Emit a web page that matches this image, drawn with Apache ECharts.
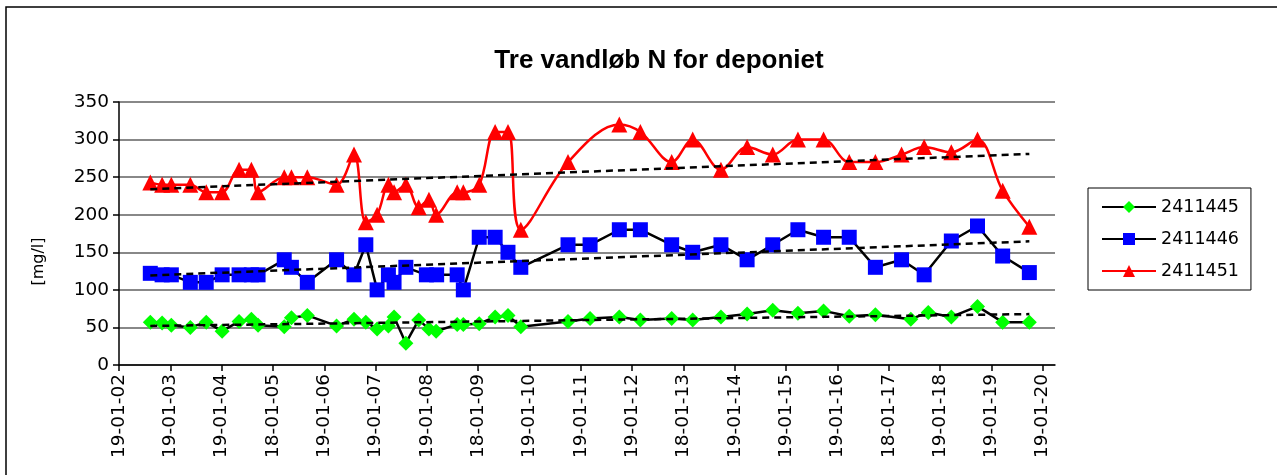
<!DOCTYPE html>
<html>
<head>
<meta charset="utf-8">
<script src="https://cdn.jsdelivr.net/npm/echarts@6/dist/echarts.min.js"></script>
<style>
  html, body { margin: 0; padding: 0; background: #fff; }
  #main { width: 1277px; height: 475px; }
</style>
</head>
<body>
<div id="main"></div>
<script>
// x-akse: år (decimal), labels som i Excel-diagrammet
var years = [2002, 2003, 2004, 2005, 2006, 2007, 2008, 2009, 2010, 2011,
             2012, 2013, 2014, 2015, 2016, 2017, 2018, 2019, 2020];
var tickLabels = ['19-01-02', '19-01-03', '19-01-04', '18-01-05', '19-01-06', '19-01-07',
                  '19-01-08', '18-01-09', '19-01-10', '19-01-11', '19-01-12', '18-01-13',
                  '19-01-14', '19-01-15', '19-01-16', '18-01-17', '19-01-18', '19-01-19', '19-01-20'];

// 2411445
var dates445 = [2002.61, 2002.84, 2003.02, 2003.39, 2003.70, 2004.01, 2004.34, 2004.58, 2004.71,
                2005.22, 2005.36, 2005.67, 2006.24, 2006.58, 2006.81, 2007.03, 2007.25, 2007.36,
                2007.59, 2007.84, 2008.04, 2008.18, 2008.59, 2008.71, 2009.02, 2009.33, 2009.58,
                2009.83, 2010.75, 2011.18, 2011.75, 2012.16, 2012.77, 2013.18, 2013.73, 2014.24,
                2014.74, 2015.23, 2015.73, 2016.23, 2016.74, 2017.43, 2017.77, 2018.22, 2018.73,
                2019.22, 2019.74];
var vals445 = [57, 56, 53, 50, 57, 45, 58, 61, 53,
               51, 63, 66, 52, 61, 57, 48, 52, 64,
               29, 60, 48, 45, 54, 54, 55, 64, 66,
               51, 58, 62, 64, 60, 62, 60, 64, 68,
               73, 69, 72, 65, 67, 61, 70, 64, 78,
               57, 57];

// 2411446
var dates446 = [2002.61, 2002.84, 2003.02, 2003.39, 2003.70, 2004.01, 2004.34, 2004.58, 2004.71,
                2005.22, 2005.36, 2005.67, 2006.24, 2006.58, 2006.81, 2007.03, 2007.25, 2007.36,
                2007.59, 2007.99, 2008.19, 2008.59, 2008.71, 2009.02, 2009.33, 2009.58, 2009.83,
                2010.75, 2011.18, 2011.75, 2012.16, 2012.77, 2013.18, 2013.73, 2014.24, 2014.74,
                2015.23, 2015.73, 2016.23, 2016.74, 2017.25, 2017.69, 2018.22, 2018.73, 2019.22,
                2019.74];
var vals446 = [122, 120, 120, 110, 110, 120, 120, 120, 120,
               140, 130, 110, 140, 120, 160, 100, 120, 110,
               130, 120, 120, 120, 100, 170, 170, 150, 130,
               160, 160, 180, 180, 160, 150, 160, 140, 160,
               180, 170, 170, 130, 140, 120, 165, 185, 145,
               123];

// 2411451
var dates451 = [2002.61, 2002.84, 2003.02, 2003.39, 2003.70, 2004.01, 2004.34, 2004.58, 2004.71,
                2005.22, 2005.36, 2005.67, 2006.24, 2006.58, 2006.81, 2007.03, 2007.25, 2007.36,
                2007.59, 2007.84, 2008.04, 2008.18, 2008.59, 2008.71, 2009.02, 2009.33, 2009.58,
                2009.83, 2010.75, 2011.75, 2012.16, 2012.77, 2013.18, 2013.73, 2014.24, 2014.74,
                2015.23, 2015.73, 2016.23, 2016.74, 2017.25, 2017.69, 2018.22, 2018.73, 2019.22,
                2019.74];
var vals451 = [243, 240, 240, 240, 230, 230, 260, 260, 230,
               250, 250, 250, 240, 280, 190, 200, 240, 230,
               240, 210, 220, 200, 230, 230, 240, 310, 310,
               180, 270, 320, 310, 270, 300, 260, 290, 280,
               300, 300, 270, 270, 280, 290, 283, 300, 232,
               184];

function pairs(xs, ys) {
    var out = [];
    for (let i = 0; i < xs.length; i++) out.push([xs[i], ys[i]]);
    return out;
}

// lineær trendlinje (mindste kvadraters metode) som i Excel
function trend(xs, ys) {
    var n = xs.length, sx = 0, sy = 0, sxx = 0, sxy = 0;
    for (let i = 0; i < n; i++) {
        sx += xs[i]; sy += ys[i]; sxx += xs[i] * xs[i]; sxy += xs[i] * ys[i];
    }
    var b = (n * sxy - sx * sy) / (n * sxx - sx * sx);
    var a = (sy - b * sx) / n;
    var x0 = xs[0], x1 = xs[n - 1];
    return [[x0, a + b * x0], [x1, a + b * x1]];
}

var myChart = echarts.init(document.getElementById('main'));
var font = 'DejaVu Sans, sans-serif';

function trendSeries(xs, ys) {
    return {
        type: 'line',
        data: trend(xs, ys),
        showSymbol: false,
        symbol: 'none',
        silent: true,
        z: 5,
        lineStyle: { color: '#000', width: 2.5, type: [7, 5] }
    };
}

var option = {
    backgroundColor: '#fff',
    animation: false,
    graphic: [{
        type: 'rect',
        shape: { x: 6, y: 7, width: 1320, height: 520 },
        style: { fill: 'none', stroke: '#000', lineWidth: 1.5 },
        silent: true
    }],
    title: {
        text: 'Tre vandløb N for deponiet',
        left: 654,
        textAlign: 'center',
        top: 43,
        textStyle: { fontFamily: 'Liberation Sans, Arial, sans-serif', fontSize: 26, fontWeight: 'bold', color: '#000' }
    },
    legend: {
        orient: 'vertical',
        left: 1088,
        top: 188,
        padding: [9, 12, 9, 13],
        itemGap: 12,
        itemWidth: 54,
        itemHeight: 15,
        borderColor: '#000',
        borderWidth: 1,
        data: ['2411445', '2411446', '2411451'],
        textStyle: { fontFamily: font, fontSize: 17.5, lineHeight: 20, color: '#000' }
    },
    grid: { left: 119, right: 222, top: 102, bottom: 110 },
    xAxis: {
        type: 'value',
        min: 2002,
        max: 2020.24,
        interval: 1,
        splitLine: { show: false },
        axisLine: { lineStyle: { color: '#000', width: 1.5 } },
        axisTick: { length: 6, lineStyle: { color: '#000', width: 1.5 }, customValues: years },
        axisLabel: {
            rotate: 90,
            margin: 9,
            fontFamily: font,
            fontSize: 18.5,
            color: '#000',
            customValues: years,
            formatter: function (v) {
                var i = years.indexOf(Math.round(v));
                return i >= 0 ? tickLabels[i] : '';
            }
        }
    },
    yAxis: {
        type: 'value',
        min: 0,
        max: 350,
        interval: 50,
        name: '[mg/l]',
        nameLocation: 'middle',
        nameGap: 72,
        nameRotate: 90,
        nameTextStyle: { fontFamily: font, fontSize: 16, color: '#000', padding: [0, 56, 0, 0] },
        axisLine: { show: true, lineStyle: { color: '#000', width: 1.5 } },
        axisTick: { show: true, length: 6, lineStyle: { color: '#000', width: 1.5 } },
        axisLabel: { fontFamily: font, fontSize: 18.5, color: '#000', margin: 10 },
        splitLine: { lineStyle: { color: '#606060', width: 1.5 } }
    },
    series: [
        {
            name: '2411445',
            type: 'line',
            data: pairs(dates445, vals445),
            symbol: 'diamond',
            symbolSize: 15,
            z: 4,
            lineStyle: { color: '#000', width: 2.5 },
            itemStyle: { color: '#00ff00', borderWidth: 0 }
        },
        {
            name: '2411446',
            type: 'line',
            data: pairs(dates446, vals446),
            symbol: 'rect',
            symbolSize: 15,
            z: 4,
            lineStyle: { color: '#000', width: 2.5 },
            itemStyle: { color: '#0000ff', borderWidth: 0 }
        },
        {
            name: '2411451',
            type: 'line',
            data: pairs(dates451, vals451),
            symbol: 'triangle',
            symbolSize: 16,
            smooth: 0.35,
            z: 4,
            lineStyle: { color: '#ff0000', width: 2.5 },
            itemStyle: { color: '#ff0000', borderWidth: 0 }
        },
        trendSeries(dates445, vals445),
        trendSeries(dates446, vals446),
        trendSeries(dates451, vals451)
    ]
};

myChart.setOption(option);
</script>
</body>
</html>
